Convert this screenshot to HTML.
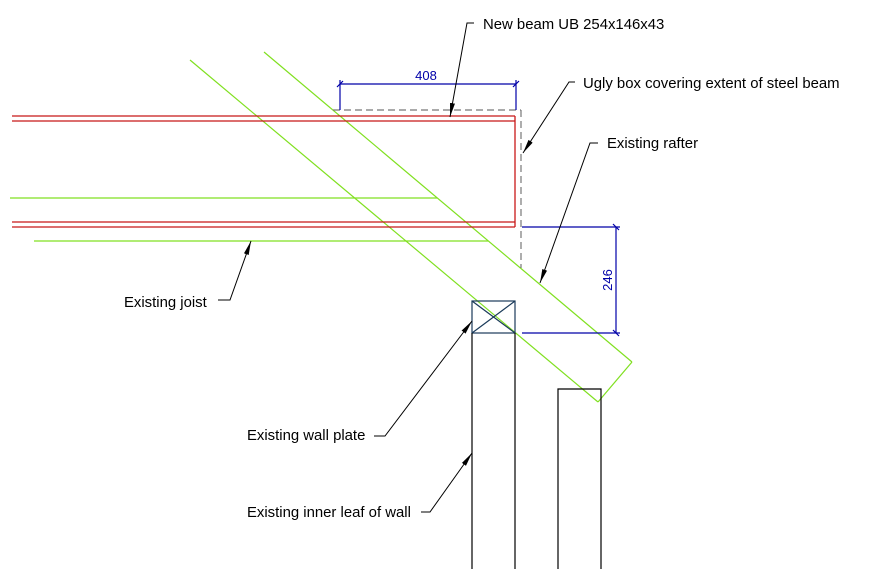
<!DOCTYPE html>
<html><head><meta charset="utf-8"><style>
html,body{margin:0;padding:0;background:#fff}
svg{display:block}
text{font-family:"Liberation Sans",Arial,sans-serif;font-size:14.9px;fill:#000}
</style></head><body>
<svg width="881" height="569" viewBox="0 0 881 569" xmlns="http://www.w3.org/2000/svg">
<defs>
<marker id="ah" markerWidth="14" markerHeight="6" refX="14" refY="3" orient="auto" markerUnits="userSpaceOnUse">
<path d="M0,0.5 L14,3 L0,5.5 Z" fill="#000"/>
</marker>
</defs>
<g stroke="#80e020" stroke-width="1.2" fill="none">
<line x1="10" y1="198" x2="437" y2="198"/>
<line x1="34" y1="241" x2="488" y2="241"/>
<line x1="190" y1="60" x2="598" y2="402"/>
<line x1="264" y1="52" x2="632" y2="362"/>
<line x1="632" y1="362" x2="598" y2="402"/>
</g>
<g stroke="#c81818" stroke-width="1.3" fill="none">
<line x1="12" y1="116" x2="515" y2="116"/>
<line x1="12" y1="121" x2="515" y2="121"/>
<line x1="12" y1="222" x2="515" y2="222"/>
<line x1="12" y1="227" x2="515" y2="227"/>
<line x1="515" y1="116" x2="515" y2="227"/>
</g>
<g stroke="#777" stroke-width="1.2" fill="none" stroke-dasharray="7,4">
<line x1="333" y1="110" x2="521" y2="110"/>
<line x1="521" y1="110" x2="521" y2="268"/>
</g>
<g stroke="#0000a8" stroke-width="1.2" fill="none">
<line x1="340" y1="84" x2="516" y2="84"/>
<line x1="340" y1="80" x2="340" y2="110"/>
<line x1="516" y1="80" x2="516" y2="110"/>
<line x1="337" y1="87" x2="343" y2="81"/>
<line x1="513" y1="87" x2="519" y2="81"/>
<line x1="522" y1="227" x2="620" y2="227"/>
<line x1="522" y1="333" x2="620" y2="333"/>
<line x1="616" y1="227" x2="616" y2="333"/>
<line x1="613" y1="224" x2="619" y2="230"/>
<line x1="613" y1="330" x2="619" y2="336"/>
</g>
<text x="426" y="80" text-anchor="middle" style="fill:#0000a8;font-size:13px">408</text>
<text transform="translate(612,280) rotate(-90)" text-anchor="middle" style="fill:#0000a8;font-size:13px">246</text>
<g stroke="#1a3a5a" stroke-width="1.2" fill="none">
<rect x="472" y="301" width="43" height="32"/>
<line x1="472" y1="301" x2="515" y2="333"/>
<line x1="515" y1="301" x2="472" y2="333"/>
</g>
<g stroke="#000" stroke-width="1.2" fill="none">
<line x1="472" y1="333" x2="472" y2="569"/>
<line x1="515" y1="333" x2="515" y2="569"/>
<polyline points="558,569 558,389 601,389 601,569"/>
</g>
<g stroke="#000" stroke-width="1" fill="none">
<polyline points="474,23 467,23 450,117" marker-end="url(#ah)"/>
<polyline points="575,82 569,82 523,153" marker-end="url(#ah)"/>
<polyline points="598,143 590,143 540,283" marker-end="url(#ah)"/>
<polyline points="218,300 230,300 251,241" marker-end="url(#ah)"/>
<polyline points="374,436 385,436 472,321" marker-end="url(#ah)"/>
<polyline points="421,512 430,512 472,453" marker-end="url(#ah)"/>
</g>
<text x="483" y="29">New beam UB 254x146x43</text>
<text x="583" y="88">Ugly box covering extent of steel beam</text>
<text x="607" y="148">Existing rafter</text>
<text x="124" y="307">Existing joist</text>
<text x="247" y="440">Existing wall plate</text>
<text x="247" y="517">Existing inner leaf of wall</text>
</svg>
</body></html>
